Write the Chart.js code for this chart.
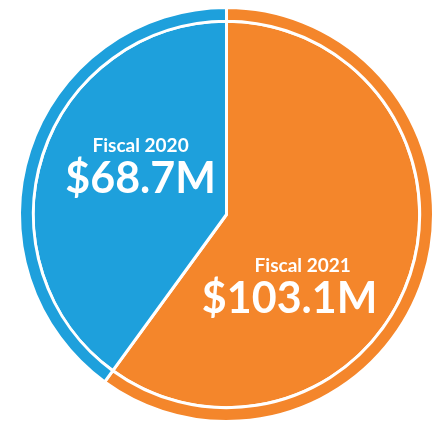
<!DOCTYPE html>
<html lang="en">
  <head>
    <meta charset="utf-8">
    <title>Fiscal funding</title>
    <script src="https://cdn.jsdelivr.net/npm/chart.js"></script>
    <style>
      html, body {
        margin: 0;
        padding: 0;
        background: #fff;
      }
      #wrap {
        width: 437px;
        height: 424px;
      }
    </style>
  </head>
  <body>
    <div id="wrap"><canvas id="fundingChart" width="437" height="424"></canvas></div>

    <script>
      // Data
      const years = ["Fiscal 2021", "Fiscal 2020"];
      const amounts = [103.1, 68.7];
      const colors = ["#f4862b", "#1ea0dc"];

      // label placement for each slice, relative to the pie centre, in units of the radius
      // (yearDx nudges the small year line sideways from the amount)
      const labelOffsets = [
        { dx: 0.305, dy: 0.37, yearDx: 0.063 },
        { dx: -0.415, dy: -0.21, yearDx: 0 },
      ];

      const sliceLabels = {
        id: "sliceLabels",
        afterDatasetsDraw(chart) {
          const meta = chart.getDatasetMeta(1);
          const ctx = chart.ctx;
          const outer = chart.getDatasetMeta(0).data[0];
          const cx = outer.x, cy = outer.y, r = outer.outerRadius;
          ctx.save();
          ctx.fillStyle = "#fff";
          ctx.textAlign = "center";
          ctx.textBaseline = "alphabetic";
          meta.data.forEach((arc, i) => {
            const off = labelOffsets[i];
            const x = cx + off.dx * r;
            const y = cy + off.dy * r;
            ctx.font = "bold 19px Lato";
            ctx.fillText(years[i], x + off.yearDx * r, y - 19);
            ctx.font = "bold 43px Lato";
            ctx.fillText("$" + amounts[i].toFixed(1) + "M", x, y + 22);
          });
          ctx.restore();
        }
      };

      // outer thin band + inner pie, same values; the white borders make the ring and dividers
      new Chart(document.getElementById("fundingChart").getContext("2d"), {
        type: "pie",
        data: {
          labels: years,
          datasets: [
            { data: amounts, backgroundColor: colors, borderColor: "#fff", borderWidth: 3, weight: 1 },
            { data: amounts, backgroundColor: colors, borderColor: "#fff", borderWidth: 3, weight: 14 },
          ]
        },
        options: {
          responsive: false,
          animation: false,
          layout: { padding: { left: 18, right: 2, top: 6, bottom: 1 } },
          plugins: {
            legend: { display: false },
            tooltip: { enabled: false }
          }
        },
        plugins: [sliceLabels]
      });
    </script>
  </body>
</html>
